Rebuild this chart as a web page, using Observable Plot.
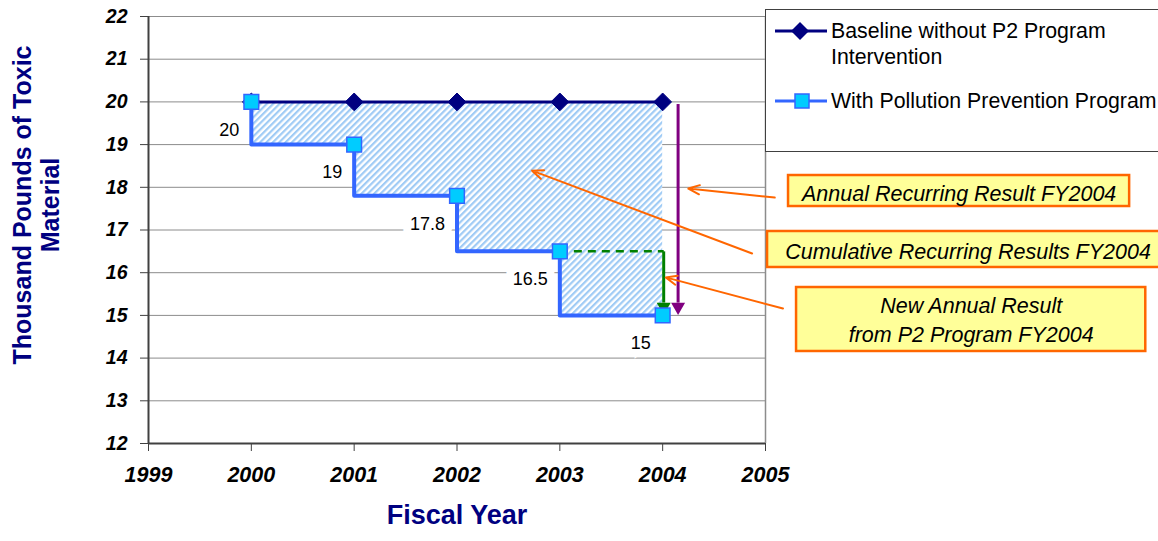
<!DOCTYPE html>
<html>
<head>
<meta charset="utf-8">
<script src="https://cdn.jsdelivr.net/npm/d3@7"></script>
<script src="https://cdn.jsdelivr.net/npm/@observablehq/plot@0.6"></script>
<style>
  html, body { margin: 0; padding: 0; background: #fff; }
  #wrap { position: relative; width: 1158px; height: 541px; overflow: hidden; font-family: "Liberation Sans", Arial, sans-serif; }
  #legend { position: absolute; left: 765px; top: 9px; width: 420px; height: 143px; border: 1px solid #404040; background: #fff; box-sizing: border-box; }
  .lg-row { position: absolute; left: 8px; display: flex; align-items: flex-start; }
  .lg-row svg { flex: none; margin-top: 0; }
  .lg-text { font-size: 21.3px; line-height: 26px; color: #000; margin-left: 3px; }
</style>
</head>
<body>
<div id="wrap"></div>
<script>
// ---- data ----
const years = [2000, 2001, 2002, 2003, 2004];
const baselineValues = [20, 20, 20, 20, 20];
const p2Values = [20, 19, 17.8, 16.5, 15];
const xTicks = [1999, 2000, 2001, 2002, 2003, 2004, 2005];
const yTicks = [12, 13, 14, 15, 16, 17, 18, 19, 20, 21, 22];
const seriesNames = ["Baseline without P2 Program\nIntervention", "With Pollution Prevention Program"];
const yTitle = "Thousand Pounds of Toxic\nMaterial";
const xTitle = "Fiscal Year";
const annotationTexts = ["Annual Recurring Result FY2004", "Cumulative Recurring Results FY2004", "New Annual Result\nfrom P2 Program FY2004"];
// annotation placement (in data units)
const annotationBoxes = [
  {x1: 2005.224, x2: 2008.541, y1: 17.55, y2: 18.276, tx: 2006.883, ty: 17.90},
  {x1: 2005.020, x2: 2008.95, y1: 16.122, y2: 16.965, tx: 2006.97, ty: 16.55},
  {x1: 2005.302, x2: 2008.698, y1: 14.155, y2: 15.653, tx: 2007.0, ty: 14.93}
];
const annotationArrows = [
  {x1: 2005.09, y1: 17.76, x2: 2004.25, y2: 17.97},
  {x1: 2004.87, y1: 16.45, x2: 2002.73, y2: 18.39},
  {x1: 2005.17, y1: 15.16, x2: 2004.03, y2: 15.89}
];
const annualArrowX = 2004.15;   // purple arrow
const newResultArrowX = 2004.01; // green arrow

// ---- tables ----
const baseline = years.map((year, i) => ({year, value: baselineValues[i]}));
const p2 = years.map((year, i) => ({year, value: p2Values[i]}));
const boxes = annotationBoxes.map((b, i) => ({...b, text: annotationTexts[i]}));

const navy = "#000080";
const blue = "#3366ff";
const orange = "#ff6600";
const purple = "#800080";
const green = "#008000";
const last = p2[p2.length - 1];
const prev = p2[p2.length - 2];

const plot = Plot.plot({
  width: 1158,
  height: 541,
  marginTop: 16,
  marginBottom: 98,
  marginLeft: 148,
  marginRight: 393,
  style: {fontFamily: "'Liberation Sans', Arial, sans-serif", background: "transparent", overflow: "visible"},
  x: {domain: [1999, 2005], type: "linear"},
  y: {domain: [12, 22]},
  marks: [
    Plot.ruleY(yTicks.slice(1), {stroke: "#8c8c8c", strokeWidth: 1}),
    Plot.ruleX([2005], {stroke: "#8c8c8c", strokeWidth: 1.5}),
    Plot.areaY(p2, {x: "year", y1: "value", y2: 20, curve: "step-before", fill: "url(#hatch)"}),
    // data labels with white boxes
    Plot.text(p2, {x: "year", y: "value", text: d => String(d.value), dx: -12, dy: 28, textAnchor: "end",
      fontSize: 18, fill: "#000", stroke: "white", strokeWidth: 16, strokeLinejoin: "miter"}),
    Plot.ruleX([1999], {stroke: "#404040", strokeWidth: 2}),
    Plot.ruleY([12], {stroke: "#404040", strokeWidth: 2}),
    Plot.axisX({ticks: xTicks, tickFormat: "d", tickSize: 8, tickPadding: 15, label: null,
      fontSize: 21.5, fontWeight: "bold", fontStyle: "italic", stroke: "#404040"}),
    Plot.axisY({ticks: yTicks, tickSize: 8, tickPadding: 13, label: null,
      fontSize: 19.5, fontWeight: "bold", fontStyle: "italic", stroke: "#404040"}),
    // baseline
    Plot.line(baseline, {x: "year", y: "value", stroke: navy, strokeWidth: 3}),
    Plot.dot(baseline, {x: "year", y: "value", symbol: "diamond2", r: 8, fill: navy, stroke: navy, strokeWidth: 1}),
    // green dashed + arrow
    Plot.link([0], {x1: prev.year, x2: newResultArrowX, y1: prev.value, y2: prev.value, stroke: green, strokeWidth: 2.5, strokeDasharray: "8,6"}),
    Plot.link([0], {x1: newResultArrowX, x2: newResultArrowX, y1: prev.value, y2: last.value + 0.3, stroke: green, strokeWidth: 3}),
    Plot.dot([0], {x: newResultArrowX, y: last.value + 0.2, symbol: "triangle", rotate: 180, r: 5.2, fill: green}),
    // step line
    Plot.line(p2, {x: "year", y: "value", curve: "step-before", stroke: blue, strokeWidth: 4}),
    Plot.dot(p2, {x: "year", y: "value", symbol: "square", r: 8.3, fill: "#00ccff", stroke: blue, strokeWidth: 1.5}),
    // purple arrow
    Plot.link([0], {x1: annualArrowX, x2: annualArrowX, y1: 19.95, y2: last.value + 0.3, stroke: purple, strokeWidth: 3}),
    Plot.dot([0], {x: annualArrowX, y: last.value + 0.2, symbol: "triangle", rotate: 180, r: 5.2, fill: purple}),
    // annotation arrows
    Plot.arrow(annotationArrows, {x1: "x1", y1: "y1", x2: "x2", y2: "y2", stroke: orange, strokeWidth: 2, headLength: 9, headAngle: 45}),
    // annotation boxes
    Plot.rect(boxes, {x1: "x1", x2: "x2", y1: "y1", y2: "y2", fill: "#ffff99", stroke: orange, strokeWidth: 2.5}),
    Plot.text(boxes, {x: "tx", y: "ty", text: "text", fontSize: 21.5, fontStyle: "italic", fill: "#000", lineHeight: 1.35}),
    // axis titles
    Plot.text([yTitle], {frameAnchor: "left", text: d => d, rotate: -90, textAnchor: "middle", lineAnchor: "middle",
      dx: -112, dy: -25, fontSize: 25, fontWeight: "bold", fill: navy, lineHeight: 1.12}),
    Plot.text([xTitle], {frameAnchor: "bottom", text: d => d, dy: 80, fontSize: 27, fontWeight: "bold", fill: navy})
  ]
});

d3.select(plot).insert("defs", ":first-child").html(
  `<pattern id="hatch" patternUnits="userSpaceOnUse" width="4.5" height="4.5" patternTransform="rotate(45)">
     <rect width="4.5" height="4.5" fill="white"/>
     <rect x="0" y="0" width="2.2" height="4.5" fill="#9fcbf5"/>
   </pattern>`);

const wrap = document.getElementById("wrap");
wrap.appendChild(plot);

// legend
const legend = document.createElement("div");
legend.id = "legend";
const swatches = [
  `<svg width="54" height="26"><line x1="1" x2="53" y1="13" y2="13" stroke="${navy}" stroke-width="3"/><path d="M26,4 L35,13 L26,22 L17,13Z" fill="${navy}"/></svg>`,
  `<svg width="54" height="26"><line x1="1" x2="53" y1="13" y2="13" stroke="${blue}" stroke-width="3"/><rect x="21" y="6" width="14" height="14" fill="#00ccff" stroke="${blue}" stroke-width="1.5"/></svg>`
];
const rowTops = [8, 78];
seriesNames.forEach((name, i) => {
  const row = document.createElement("div");
  row.className = "lg-row";
  row.style.top = rowTops[i] + "px";
  row.innerHTML = swatches[i] + `<div class="lg-text">${name.replace("\n", "<br>")}</div>`;
  legend.appendChild(row);
});
wrap.appendChild(legend);
</script>
</body>
</html>
